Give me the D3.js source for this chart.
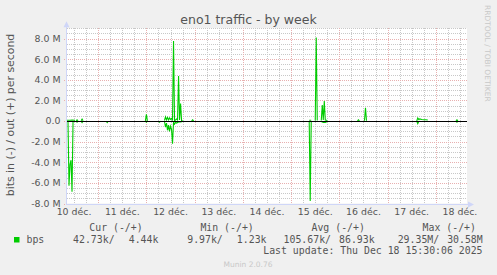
<!DOCTYPE html>
<html>
<head>
<meta charset="utf-8">
<script src="https://cdn.jsdelivr.net/npm/d3@7"></script>
<style>
    body { margin: 0; background: #f0f0f0; }
    svg { display: block; }
</style>
</head>
<body>
<svg id="chart" width="497" height="275"></svg>
<script>
// ---- data ----
const chartTitle = "eno1 traffic - by week";
const yAxisTitle = "bits in (-) / out (+) per second";
const timeStart = "2025-12-10 08:30";
const timeEnd = "2025-12-18 15:30";

const yTickValues = [-8e6, -6e6, -4e6, -2e6, 0, 2e6, 4e6, 6e6, 8e6];
const yTickLabels = ["-8.0 M", "-6.0 M", "-4.0 M", "-2.0 M", "0.0", "2.0 M", "4.0 M", "6.0 M", "8.0 M"];

const dayTicks = ["2025-12-10 12:00", "2025-12-11 12:00", "2025-12-12 12:00", "2025-12-13 12:00",
    "2025-12-14 12:00", "2025-12-15 12:00", "2025-12-16 12:00", "2025-12-17 12:00", "2025-12-18 12:00"];
const dayLabels = ["10 déc.", "11 déc.", "12 déc.", "13 déc.", "14 déc.", "15 déc.", "16 déc.", "17 déc.", "18 déc."];

// out (+), values in Mbit/s, null = no data
const outData = [
    ["2025-12-10 08:30", 0.08], ["2025-12-10 10:00", 0.08], ["2025-12-10 11:00", 0.1], ["2025-12-10 12:30", 0.08],
    ["2025-12-10 12:45", null],
    ["2025-12-10 13:00", 0.02], ["2025-12-10 13:30", 0.12], ["2025-12-10 14:00", 0.02],
    ["2025-12-10 14:15", null],
    ["2025-12-10 15:30", 0.02], ["2025-12-10 16:00", 0.18], ["2025-12-10 16:30", 0.02],
    ["2025-12-10 17:00", null],
    ["2025-12-11 23:30", 0.02], ["2025-12-12 00:00", 0.65], ["2025-12-12 00:30", 0.02],
    ["2025-12-12 01:00", null],
    ["2025-12-12 09:00", 0.05], ["2025-12-12 09:30", 0.4], ["2025-12-12 10:00", 0.1], ["2025-12-12 10:30", 0.35],
    ["2025-12-12 11:00", 0.1], ["2025-12-12 11:30", 0.3], ["2025-12-12 12:00", 0.15], ["2025-12-12 12:30", 0.25],
    ["2025-12-12 13:00", 0.05], ["2025-12-12 13:30", 7.76], ["2025-12-12 14:00", 0.05], ["2025-12-12 14:30", 0.1],
    ["2025-12-12 15:00", 0.2], ["2025-12-12 15:30", 0.1], ["2025-12-12 16:00", 4.36], ["2025-12-12 16:30", 0.1],
    ["2025-12-12 17:00", 1.7], ["2025-12-12 17:30", 0.05], ["2025-12-12 18:00", 0.05],
    ["2025-12-12 18:30", null],
    ["2025-12-12 22:30", 0.02], ["2025-12-12 23:00", 0.12], ["2025-12-12 23:30", 0.02],
    ["2025-12-13 00:00", null],
    ["2025-12-15 09:00", 0.08], ["2025-12-15 10:00", 0.08],
    ["2025-12-15 10:30", null],
    ["2025-12-15 12:00", 0.05], ["2025-12-15 12:30", 8.1], ["2025-12-15 13:00", 0.05],
    ["2025-12-15 13:30", null],
    ["2025-12-15 15:00", 0.05], ["2025-12-15 15:30", 1.55], ["2025-12-15 16:00", 0.1], ["2025-12-15 16:30", 1.94],
    ["2025-12-15 17:00", 0.1], ["2025-12-15 18:00", 0.05],
    ["2025-12-15 18:30", null],
    ["2025-12-16 09:00", 0.02], ["2025-12-16 09:30", 0.12], ["2025-12-16 10:00", 0.02],
    ["2025-12-16 10:30", null],
    ["2025-12-16 12:30", 0.02], ["2025-12-16 13:00", 1.29], ["2025-12-16 13:30", 0.02],
    ["2025-12-16 14:00", null],
    ["2025-12-17 14:30", 0.0], ["2025-12-17 15:00", 0.3], ["2025-12-17 15:30", 0.15], ["2025-12-17 16:00", 0.2],
    ["2025-12-17 17:00", 0.15], ["2025-12-17 18:00", 0.12], ["2025-12-17 19:00", 0.12], ["2025-12-17 20:00", 0.1],
    ["2025-12-17 20:30", null],
    ["2025-12-18 10:00", 0.02], ["2025-12-18 10:30", 0.12], ["2025-12-18 11:00", 0.02]
];

// in (-), values in Mbit/s, null = no data
const inData = [
    ["2025-12-10 08:30", -0.05], ["2025-12-10 09:00", -0.05], ["2025-12-10 09:30", -6.27], ["2025-12-10 10:00", -4.2],
    ["2025-12-10 10:30", -3.8], ["2025-12-10 11:00", -6.86], ["2025-12-10 11:30", -0.05], ["2025-12-10 12:30", -0.05],
    ["2025-12-10 12:45", null],
    ["2025-12-10 13:00", -0.02], ["2025-12-10 13:30", -0.12], ["2025-12-10 14:00", -0.02],
    ["2025-12-10 14:15", null],
    ["2025-12-10 15:30", -0.02], ["2025-12-10 16:00", -0.15], ["2025-12-10 16:30", -0.02],
    ["2025-12-10 17:00", null],
    ["2025-12-11 04:00", -0.02], ["2025-12-11 04:30", -0.15], ["2025-12-11 05:00", -0.02],
    ["2025-12-11 05:30", null],
    ["2025-12-11 23:30", -0.02], ["2025-12-12 00:00", -0.12], ["2025-12-12 00:30", -0.02],
    ["2025-12-12 01:00", null],
    ["2025-12-12 06:00", -0.02], ["2025-12-12 06:30", -0.12], ["2025-12-12 07:00", -0.02],
    ["2025-12-12 07:30", null],
    ["2025-12-12 09:00", -0.05], ["2025-12-12 09:30", -0.6], ["2025-12-12 10:00", -0.2], ["2025-12-12 10:30", -0.9],
    ["2025-12-12 11:00", -0.4], ["2025-12-12 11:30", -1.0], ["2025-12-12 12:00", -0.5], ["2025-12-12 12:30", -0.8],
    ["2025-12-12 13:00", -2.2], ["2025-12-12 13:30", -0.1], ["2025-12-12 14:00", -0.3], ["2025-12-12 14:30", -0.15],
    ["2025-12-12 15:00", -0.2], ["2025-12-12 16:00", -0.1], ["2025-12-12 17:00", -0.1], ["2025-12-12 18:00", -0.05],
    ["2025-12-12 18:30", null],
    ["2025-12-15 09:00", -0.05], ["2025-12-15 09:30", -7.76], ["2025-12-15 10:00", -0.05],
    ["2025-12-15 10:30", null],
    ["2025-12-15 15:00", -0.05], ["2025-12-15 16:00", -0.15], ["2025-12-15 17:00", -0.15], ["2025-12-15 18:00", -0.05],
    ["2025-12-15 18:30", null],
    ["2025-12-17 14:30", -0.02], ["2025-12-17 15:00", -0.25], ["2025-12-17 15:30", -0.05], ["2025-12-17 16:00", -0.02],
    ["2025-12-17 16:30", null],
    ["2025-12-18 10:00", -0.02], ["2025-12-18 10:30", -0.12], ["2025-12-18 11:00", -0.02]
];

const legendHeaders = ["Cur (-/+)", "Min (-/+)", "Avg (-/+)", "Max (-/+)"];
const legendIn = ["42.73k/", "9.97k/", "105.67k/", "29.35M/"];
const legendOut = ["4.44k", "1.23k", "86.93k", "30.58M"];
const legendName = "bps";
const lastUpdate = "Last update: Thu Dec 18 15:30:06 2025";
const watermark = "RRDTOOL / TOBI OETIKER";
const footer = "Munin 2.0.76";

// ---- options ----
const colors = {
    back: "#f0f0f0",
    canvas: "#ffffff",
    font: "#555555",
    axis: "#cfd6f8",
    grid: "#c8c8c8",
    mgrid: "#e8b0b0",
    line: "#00cc00",
    faint: "#c8c8c8",
};
const plot = { left: 67, right: 467, top: 28.2, bottom: 203.5 };
const sansFont = "'DejaVu Sans', sans-serif";
const monoFont = "'DejaVu Sans Mono', monospace";

const parseTime = d3.utcParse("%Y-%m-%d %H:%M");

const svg = d3.select("#chart");
svg.append("rect").attr("width", 497).attr("height", 275).attr("fill", colors.back);

// scales
const x = d3.scaleUtc()
    .domain([parseTime(timeStart), parseTime(timeEnd)])
    .range([plot.left, plot.right]);
const y = d3.scaleLinear()
    .domain([-8e6, 9e6])
    .range([plot.bottom, plot.top]);

// canvas
svg.append("rect")
    .attr("x", plot.left).attr("y", plot.top)
    .attr("width", plot.right - plot.left).attr("height", plot.bottom - plot.top)
    .attr("fill", colors.canvas);

// grid
const grid = svg.append("g").attr("shape-rendering", "crispEdges");
const minorY = d3.range(-8e6, 9e6 + 1, 5e5).filter(v => v % 2e6 !== 0);
const minorX = d3.utcHour.every(6).range(x.domain()[0], x.domain()[1]).filter(t => t.getUTCHours() !== 0);
const majorX = d3.utcDay.range(x.domain()[0], x.domain()[1]);

grid.selectAll(".minor-y")
    .data(minorY)
    .join("line")
    .attr("x1", plot.left).attr("x2", plot.right)
    .attr("y1", d => Math.round(y(d)) + 0.5).attr("y2", d => Math.round(y(d)) + 0.5)
    .attr("stroke", colors.grid).attr("stroke-dasharray", "1,1");

grid.selectAll(".minor-x")
    .data(minorX)
    .join("line")
    .attr("x1", d => Math.round(x(d)) + 0.5).attr("x2", d => Math.round(x(d)) + 0.5)
    .attr("y1", plot.top).attr("y2", plot.bottom)
    .attr("stroke", colors.grid).attr("stroke-dasharray", "1,1");

grid.selectAll(".major-y")
    .data(yTickValues)
    .join("line")
    .attr("x1", plot.left - 3).attr("x2", plot.right)
    .attr("y1", d => Math.round(y(d)) + 0.5).attr("y2", d => Math.round(y(d)) + 0.5)
    .attr("stroke", colors.mgrid).attr("stroke-dasharray", "1,1");

grid.selectAll(".major-x")
    .data(majorX)
    .join("line")
    .attr("x1", d => Math.round(x(d)) + 0.5).attr("x2", d => Math.round(x(d)) + 0.5)
    .attr("y1", plot.top).attr("y2", plot.bottom + 2)
    .attr("stroke", colors.mgrid).attr("stroke-dasharray", "1,1");

// tick labels
svg.append("g")
    .selectAll("text")
    .data(yTickValues)
    .join("text")
    .attr("x", 60.5)
    .attr("y", d => y(d))
    .attr("dy", "0.36em")
    .attr("text-anchor", "end")
    .attr("fill", colors.font)
    .style("font-family", sansFont)
    .style("font-size", "9.4px")
    .text((d, i) => yTickLabels[i]);

svg.append("g")
    .selectAll("text")
    .data(dayTicks)
    .join("text")
    .attr("x", d => x(parseTime(d)))
    .attr("y", 215)
    .attr("text-anchor", "middle")
    .attr("fill", colors.font)
    .style("font-family", sansFont)
    .style("font-size", "9.4px")
    .text((d, i) => dayLabels[i]);

// data lines
const line = d3.line()
    .defined(d => d[1] !== null)
    .x(d => x(parseTime(d[0])))
    .y(d => y(d[1] * 1e6));

[inData, outData].forEach(series => {
    svg.append("path")
        .datum(series)
        .attr("d", line)
        .attr("fill", "none")
        .attr("stroke", colors.line)
        .attr("stroke-width", 1.1)
        .attr("stroke-linejoin", "miter");
});

// zero rule
svg.append("line")
    .attr("x1", plot.left).attr("x2", plot.right)
    .attr("y1", Math.round(y(0)) + 0.5).attr("y2", Math.round(y(0)) + 0.5)
    .attr("stroke", "#000").attr("shape-rendering", "crispEdges");

// axes with arrows
const axisX = Math.round(plot.left) - 0.5;
const axisY = Math.round(plot.bottom) + 0.5;
svg.append("line")
    .attr("x1", axisX).attr("x2", axisX)
    .attr("y1", axisY).attr("y2", plot.top - 2)
    .attr("stroke", colors.axis).attr("shape-rendering", "crispEdges");
svg.append("line")
    .attr("x1", axisX).attr("x2", plot.right + 1)
    .attr("y1", axisY).attr("y2", axisY)
    .attr("stroke", colors.axis).attr("shape-rendering", "crispEdges");
svg.append("path")
    .attr("d", `M${axisX - 3},${plot.top - 1}L${axisX + 3},${plot.top - 1}L${axisX},${plot.top - 7}Z`)
    .attr("fill", colors.axis);
svg.append("path")
    .attr("d", `M${plot.right + 1},${axisY - 3}L${plot.right + 1},${axisY + 3}L${plot.right + 7},${axisY}Z`)
    .attr("fill", colors.axis);

// titles
svg.append("text")
    .attr("x", 248.5).attr("y", 24)
    .attr("text-anchor", "middle")
    .attr("fill", colors.font)
    .style("font-family", sansFont)
    .style("font-size", "12.5px")
    .text(chartTitle);

svg.append("text")
    .attr("transform", "translate(13.5,115) rotate(-90)")
    .attr("text-anchor", "middle")
    .attr("fill", colors.font)
    .style("font-family", sansFont)
    .style("font-size", "10.9px")
    .text(yAxisTitle);

svg.append("text")
    .attr("transform", "translate(485,5) rotate(90)")
    .attr("fill", colors.faint)
    .style("font-family", sansFont)
    .style("font-size", "7.5px")
    .text(watermark);

// legend
const legend = svg.append("g")
    .attr("fill", colors.font)
    .style("font-family", monoFont)
    .style("font-size", "9.85px");

legend.selectAll(".hdr")
    .data(legendHeaders)
    .join("text")
    .attr("x", (d, i) => 89.3 + i * 111.1)
    .attr("y", 231)
    .text(d => d);

legend.append("rect")
    .attr("x", 14).attr("y", 237)
    .attr("width", 5.5).attr("height", 5.5)
    .attr("fill", colors.line);

legend.append("text")
    .attr("x", 26.5).attr("y", 242.5)
    .text(legendName);

legend.selectAll(".in")
    .data(legendIn)
    .join("text")
    .attr("x", (d, i) => 114.6 + i * 108.2)
    .attr("y", 242.5)
    .attr("text-anchor", "end")
    .text(d => d);

legend.selectAll(".out")
    .data(legendOut)
    .join("text")
    .attr("x", (d, i) => 158.4 + i * 108.1)
    .attr("y", 242.5)
    .attr("text-anchor", "end")
    .text(d => d);

legend.append("text")
    .attr("x", 482.5).attr("y", 254)
    .attr("text-anchor", "end")
    .text(lastUpdate);

svg.append("text")
    .attr("x", 248).attr("y", 267)
    .attr("text-anchor", "middle")
    .attr("fill", colors.faint)
    .style("font-family", sansFont)
    .style("font-size", "7.5px")
    .text(footer);
</script>
</body>
</html>
